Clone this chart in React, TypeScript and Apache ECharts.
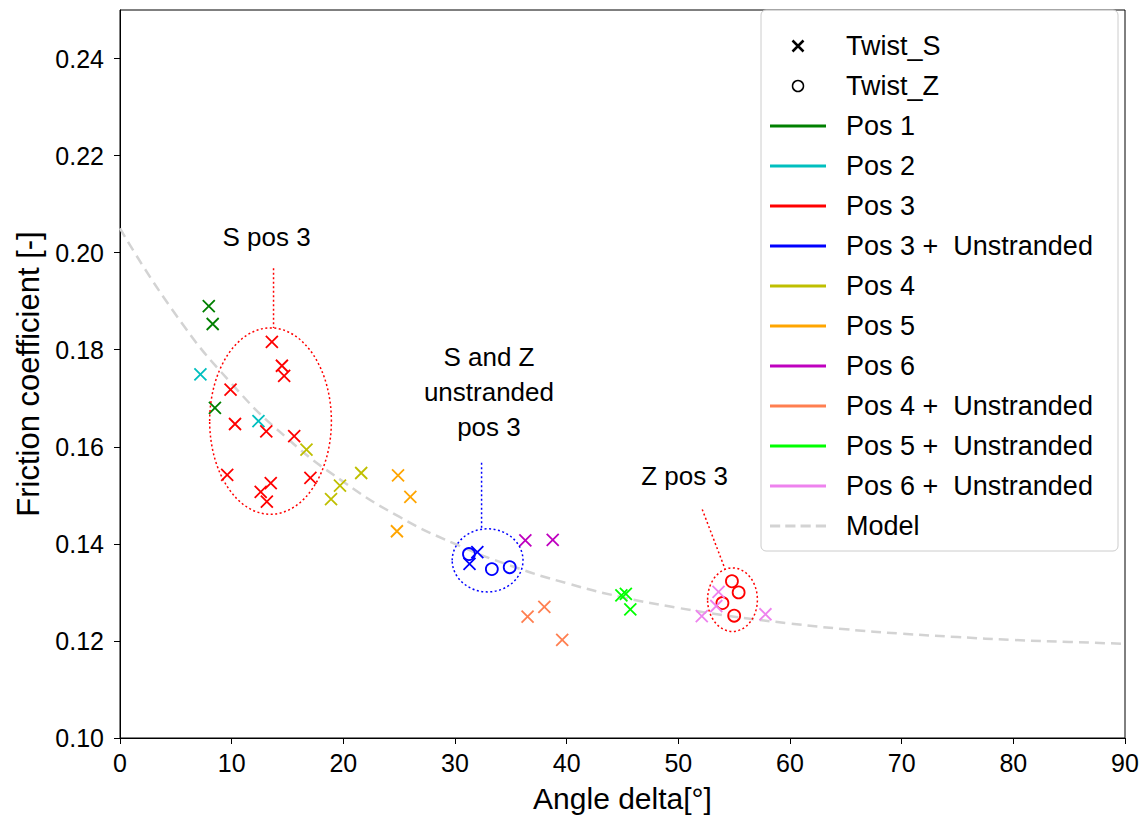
import React, { useEffect, useRef } from "react";
import * as echarts from "echarts";

// ---------- data ----------
const xTicks = [0, 10, 20, 30, 40, 50, 60, 70, 80, 90];
const yTicks = [0.1, 0.12, 0.14, 0.16, 0.18, 0.2, 0.22, 0.24];

const pos1S = [[7.95, 0.189], [8.3, 0.1853], [8.5, 0.168]];
const pos2S = [[7.2, 0.1749], [12.4, 0.1653]];
const pos3S = [
  [13.6, 0.1816], [14.5, 0.1767], [14.7, 0.1746], [9.9, 0.1718], [10.3, 0.1647], [13.1, 0.1632],
  [15.6, 0.1622], [9.6, 0.1542], [17.05, 0.1536], [13.5, 0.1525], [12.6, 0.1507], [13.15, 0.1487],
];
const pos3Z = [[54.8, 0.1323], [55.4, 0.13], [53.95, 0.1278], [55.0, 0.1252]];
const pos3US = [[31.3, 0.1359], [32.0, 0.1383]];
const pos3UZ = [[31.25, 0.1379], [33.3, 0.1348], [34.9, 0.1352]];
const pos4S = [[16.7, 0.1594], [21.6, 0.1546], [19.7, 0.152], [18.9, 0.1492]];
const pos5S = [[24.9, 0.1541], [26.0, 0.1497], [24.8, 0.1426]];
const pos6S = [[36.3, 0.1407], [38.75, 0.1408]];
const pos4US = [[36.5, 0.125], [38.0, 0.127], [39.6, 0.1202]];
const pos5US = [[44.9, 0.1294], [45.3, 0.1297], [45.7, 0.1265]];
const pos6US = [[52.1, 0.1251], [53.6, 0.1301], [53.4, 0.1272], [57.8, 0.1255]];

const modelX = [0, 5, 10, 15, 20, 25, 30, 35, 40, 45, 50, 55, 60, 65, 70, 75, 80, 85, 90];
const modelY = [
  0.205, 0.1872, 0.173, 0.1617, 0.1528, 0.1456, 0.14, 0.1355, 0.1319, 0.129,
  0.1268, 0.125, 0.1236, 0.1224, 0.1215, 0.1208, 0.1202, 0.1198, 0.1194,
];

const U = "  Unstranded";
const groups = [
  { name: "Pos 1", color: "#008000", s: pos1S, z: [] },
  { name: "Pos 2", color: "#00bfbf", s: pos2S, z: [] },
  { name: "Pos 3", color: "#ff0000", s: pos3S, z: pos3Z },
  { name: "Pos 3 +" + U, color: "#0000ff", s: pos3US, z: pos3UZ },
  { name: "Pos 4", color: "#bfbf00", s: pos4S, z: [] },
  { name: "Pos 5", color: "#ffa500", s: pos5S, z: [] },
  { name: "Pos 6", color: "#bf00bf", s: pos6S, z: [] },
  { name: "Pos 4 +" + U, color: "#ff7f50", s: pos4US, z: [] },
  { name: "Pos 5 +" + U, color: "#00ff00", s: pos5US, z: [] },
  { name: "Pos 6 +" + U, color: "#ee82ee", s: pos6US, z: [] },
];

// annotation anchors (data units)
const annoS = { text: "S pos 3", at: [13.13, 0.2032], line: [[13.75, 0.1968], [13.75, 0.1845]], ell: [13.48, 0.1653, 5.45, 0.0192], color: "#ff0000" };
const annoU = { text: "S and Z\nunstranded\npos 3", at: [33.04, 0.1712], line: [[32.38, 0.1567], [32.38, 0.143]], ell: [32.92, 0.1366, 3.17, 0.0065], color: "#0000ff" };
const annoZ = { text: "Z pos 3", at: [50.56, 0.1539], line: [[52.14, 0.1471], [54.17, 0.1349]], ell: [54.85, 0.1285, 2.23, 0.00655], color: "#ff0000" };

const FONT = "'Liberation Sans', Arial, Helvetica, sans-serif";
const XSYM = "path://M0,0L10,10M10,0L0,10";
const LINE_ICON = "path://M0,0H56V3H0Z";
const DASH_ICON = "path://M0,0H10V3H0Z M15,0H25V3H15Z M30,0H40V3H30Z M45,0H55V3H45Z";

export default function App() {
  const ref = useRef<HTMLDivElement>(null);

  useEffect(() => {
    const chart = echarts.init(ref.current as HTMLDivElement, null, { renderer: "svg" });

    const series: any[] = [
      {
        name: "Model",
        type: "line",
        data: modelX.map((x, i) => [x, modelY[i]]),
        smooth: true,
        symbol: "none",
        z: 1,
        lineStyle: { color: "#d3d3d3", width: 2.5, type: [10, 6], opacity: 1 },
        itemStyle: { color: "#d3d3d3" },
      },
      {
        name: "Twist_S", type: "scatter", data: [], symbol: XSYM,
        itemStyle: { color: "#000", borderColor: "#000", borderWidth: 2.5, opacity: 1 },
      },
      {
        name: "Twist_Z", type: "scatter", data: [], symbol: "circle",
        itemStyle: { color: "transparent", borderColor: "#000", borderWidth: 1.5, opacity: 1 },
      },
    ];
    groups.forEach((g) => {
      series.push({
        name: g.name, type: "scatter", data: g.s, symbol: XSYM, symbolSize: 12, z: 3,
        itemStyle: { color: g.color, borderColor: g.color, borderWidth: 1.8, opacity: 1 },
      });
      if (g.z.length) {
        series.push({
          name: g.name, type: "scatter", data: g.z, symbol: "circle", symbolSize: 12, z: 3,
          itemStyle: { color: "transparent", borderColor: g.color, borderWidth: 1.8, opacity: 1 },
        });
      }
    });

    const legendData: any[] = [
      { name: "Twist_S", icon: XSYM, itemStyle: { color: "#000", borderColor: "#000", borderWidth: 2.5, opacity: 1 } },
      { name: "Twist_Z", icon: "circle", itemStyle: { color: "transparent", borderColor: "#000", borderWidth: 1.5, opacity: 1 } },
      ...groups.map((g) => ({ name: g.name, icon: LINE_ICON, itemStyle: { color: g.color, borderWidth: 0, opacity: 1 } })),
      { name: "Model", icon: DASH_ICON, itemStyle: { color: "#d3d3d3", borderWidth: 0, opacity: 1 } },
    ];

    chart.setOption({
      animation: false,
      backgroundColor: "#ffffff",
      textStyle: { fontFamily: FONT },
      grid: {
        left: 120, right: 23, top: 10, bottom: 76,
        show: true, borderColor: "#000", borderWidth: 1, backgroundColor: "transparent",
      },
      xAxis: {
        type: "value", min: 0, max: 90, interval: 10,
        name: "Angle delta[°]", nameLocation: "middle", nameGap: 45,
        nameTextStyle: { fontSize: 30, color: "#000", fontFamily: FONT },
        axisLine: { show: true, lineStyle: { color: "#000", width: 1 } },
        axisTick: { show: true, length: 6, lineStyle: { color: "#000" }, customValues: xTicks },
        axisLabel: { fontSize: 25, color: "#000", margin: 12, fontFamily: FONT, customValues: xTicks },
        splitLine: { show: false },
      },
      yAxis: {
        type: "value", min: 0.1, max: 0.25,
        name: "Friction coefficient [-]", nameLocation: "middle", nameGap: 74,
        nameTextStyle: { fontSize: 31, color: "#000", fontFamily: FONT },
        axisLine: { show: true, lineStyle: { color: "#000", width: 1 } },
        axisTick: { show: true, length: 6, lineStyle: { color: "#000" }, customValues: yTicks },
        axisLabel: {
          fontSize: 25, color: "#000", margin: 16, fontFamily: FONT, customValues: yTicks,
          formatter: (v: number) => v.toFixed(2),
        },
        splitLine: { show: false },
      },
      legend: {
        show: true, orient: "vertical", left: 761, top: 10,
        padding: [22, 14, 11, 9],
        itemWidth: 56, itemHeight: 11, itemGap: 12,
        selectedMode: false,
        backgroundColor: "rgba(255,255,255,0.8)",
        borderColor: "#cccccc", borderWidth: 1, borderRadius: 5,
        textStyle: {
          fontSize: 27, color: "#000", fontFamily: FONT, lineHeight: 28,
          padding: [0, 0, 0, 15], width: 258,
        },
        data: legendData,
        z: 10,
      },
      series,
    });

    const px = (p: number[]) => chart.convertToPixel({ gridIndex: 0 }, p) as number[];
    const graphics: any[] = [];
    [annoS, annoU, annoZ].forEach((a) => {
      const t = px(a.at);
      graphics.push({
        type: "text", x: t[0], y: t[1], z: 20,
        style: {
          text: a.text, fontSize: 26, fontFamily: FONT, fill: "#000",
          align: "center", verticalAlign: "middle", lineHeight: 35,
        },
      });
      const p1 = px(a.line[0]);
      const p2 = px(a.line[1]);
      graphics.push({
        type: "line", z: 20,
        shape: { x1: p1[0], y1: p1[1], x2: p2[0], y2: p2[1] },
        style: { stroke: a.color, lineWidth: 1.5, lineDash: [2, 2.5] },
      });
      const c = px([a.ell[0], a.ell[1]]);
      const e = px([a.ell[0] + a.ell[2], a.ell[1] + a.ell[3]]);
      graphics.push({
        type: "ellipse", z: 20,
        shape: { cx: c[0], cy: c[1], rx: Math.abs(e[0] - c[0]), ry: Math.abs(c[1] - e[1]) },
        style: { fill: "none", stroke: a.color, lineWidth: 1.5, lineDash: [2, 2.5] },
      });
    });
    chart.setOption({ graphic: graphics });

    return () => chart.dispose();
  }, []);

  return (
    <div
      ref={ref}
      style={{ position: "fixed", left: 0, top: 0, width: 1148, height: 818, background: "#fff" }}
    />
  );
}
